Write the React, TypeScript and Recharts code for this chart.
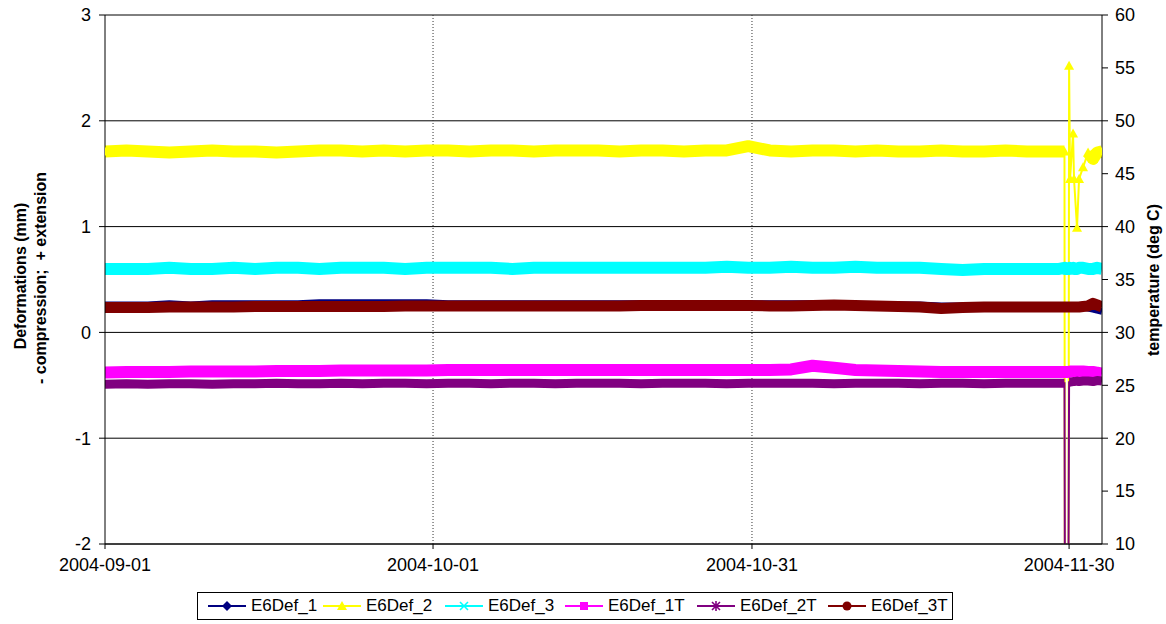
import React from 'react';
import { LineChart, Line, XAxis, YAxis, CartesianGrid, ReferenceLine } from 'recharts';

const FONT = '"Liberation Sans", Arial, sans-serif';

// position along the sample axis (roughly days from 2004-09-01; the axis is by reading, not calendar)
const pos = [
  0, 2, 4, 6, 8, 10, 12, 14, 16, 18, 20, 22, 24, 26, 28, 30, 32, 34, 36, 38, 40, 42,
  44, 46, 48, 50, 52, 54, 56, 58, 60, 62, 64, 66, 68, 70, 72, 74, 76, 78, 80, 82, 84,
  86, 88,
  89, 89.5, 89.55, 89.85, 89.93, 90.02, 90.3, 90.39, 90.67, 90.86, 91.23, 91.7, 92.16, 92.54, 93,
];

const dateTicks = [0, 30.6, 60.35, 89.93];
const dateLabels = ['2004-09-01', '2004-10-01', '2004-10-31', '2004-11-30'];
const defTicks = [-2, -1, 0, 1, 2, 3];
const tempTicks = [10, 15, 20, 25, 30, 35, 40, 45, 50, 55, 60];

// deformations (mm)
const def1 = [
  0.26, 0.26, 0.26, 0.27, 0.26, 0.27, 0.27, 0.27, 0.27, 0.27, 0.28, 0.28, 0.28, 0.28, 0.28,
  0.28, 0.27, 0.27, 0.27, 0.27, 0.27, 0.27, 0.27, 0.27, 0.27, 0.27, 0.27, 0.27, 0.27, 0.27,
  0.27, 0.27, 0.27, 0.27, 0.27, 0.26, 0.26, 0.26, 0.26, 0.25, 0.25, 0.25, 0.25, 0.25, 0.25,
  0.25, 0.25, 0.25, 0.25, 0.25, 0.25, 0.25, 0.25, 0.24, 0.24, 0.24, 0.23, 0.22, 0.21, 0.2,
];
const def2 = [
  1.71, 1.72, 1.71, 1.7, 1.71, 1.72, 1.71, 1.71, 1.7, 1.71, 1.72, 1.72, 1.71, 1.72, 1.71,
  1.72, 1.72, 1.71, 1.72, 1.72, 1.71, 1.72, 1.72, 1.72, 1.71, 1.72, 1.72, 1.71, 1.72, 1.72,
  1.76, 1.72, 1.71, 1.72, 1.72, 1.71, 1.72, 1.71, 1.71, 1.72, 1.71, 1.71, 1.72, 1.71, 1.71,
  1.71, 1.71, -5, -5, 2.52, 1.45, 1.88, 1.45, 0.99, 1.45, 1.56, 1.7, 1.64, 1.7, 1.71,
];
const def3 = [
  0.6, 0.6, 0.6, 0.61, 0.6, 0.6, 0.61, 0.6, 0.61, 0.61, 0.6, 0.61, 0.61, 0.61, 0.6,
  0.61, 0.61, 0.61, 0.61, 0.6, 0.61, 0.61, 0.61, 0.61, 0.61, 0.61, 0.61, 0.61, 0.61, 0.62,
  0.61, 0.61, 0.62, 0.61, 0.61, 0.62, 0.61, 0.61, 0.61, 0.6, 0.59, 0.6, 0.6, 0.6, 0.6,
  0.6, 0.61, 0.6, 0.6, 0.61, 0.6, 0.61, 0.6, 0.6, 0.61, 0.61, 0.6, 0.6, 0.61, 0.6,
];
// temperatures (deg C)
const def1T = [
  26.2, 26.25, 26.25, 26.25, 26.3, 26.3, 26.3, 26.3, 26.35, 26.35, 26.35, 26.4, 26.4, 26.4, 26.4,
  26.4, 26.45, 26.45, 26.45, 26.45, 26.45, 26.45, 26.45, 26.45, 26.45, 26.45, 26.45, 26.45, 26.45, 26.45,
  26.45, 26.45, 26.5, 26.85, 26.65, 26.45, 26.4, 26.35, 26.3, 26.25, 26.25, 26.25, 26.25, 26.25, 26.25,
  26.25, 26.25, 26.25, 26.25, 26.25, 26.3, 26.3, 26.3, 26.3, 26.3, 26.3, 26.25, 26.25, 26.2, 26.1,
];
const def2T = [
  25.1, 25.15, 25.1, 25.15, 25.15, 25.1, 25.15, 25.15, 25.2, 25.15, 25.15, 25.2, 25.15, 25.2, 25.2,
  25.15, 25.2, 25.2, 25.15, 25.2, 25.2, 25.15, 25.2, 25.2, 25.2, 25.15, 25.2, 25.2, 25.2, 25.15,
  25.2, 25.2, 25.2, 25.2, 25.15, 25.2, 25.2, 25.2, 25.15, 25.2, 25.2, 25.15, 25.2, 25.2, 25.2,
  25.2, 25.2, 0, 0, 25.3, 25.3, 25.35, 25.35, 25.4, 25.35, 25.4, 25.4, 25.35, 25.45, 25.4,
];
const def3T = [
  32.35, 32.35, 32.35, 32.4, 32.4, 32.4, 32.4, 32.45, 32.45, 32.45, 32.45, 32.45, 32.45, 32.45, 32.5,
  32.5, 32.5, 32.5, 32.5, 32.5, 32.5, 32.5, 32.5, 32.5, 32.5, 32.55, 32.55, 32.55, 32.55, 32.55,
  32.55, 32.5, 32.5, 32.55, 32.6, 32.55, 32.5, 32.45, 32.4, 32.25, 32.35, 32.4, 32.4, 32.4, 32.4,
  32.4, 32.4, 32.4, 32.4, 32.4, 32.4, 32.4, 32.4, 32.4, 32.4, 32.45, 32.5, 32.75, 32.6, 32.4,
];

// stretches where the readings jump around and the band breaks up
const def2Gap = [89.5, 91.7];
const def2TGap = [89.5, 89.93];

const series = [
  { key: 'E6Def_1', values: def1, color: '#000080', axis: 'left', marker: 'diamond', band: 7, gap: null },
  { key: 'E6Def_2', values: def2, color: '#ffff00', axis: 'left', marker: 'triangle', band: 12, gap: def2Gap },
  { key: 'E6Def_3', values: def3, color: '#00ffff', axis: 'left', marker: 'x', band: 12, gap: null },
  { key: 'E6Def_1T', values: def1T, color: '#ff00ff', axis: 'right', marker: 'square', band: 12, gap: null },
  { key: 'E6Def_2T', values: def2T, color: '#800080', axis: 'right', marker: 'star', band: 9, gap: def2TGap },
  { key: 'E6Def_3T', values: def3T, color: '#800000', axis: 'right', marker: 'circle', band: 11, gap: null },
];

const rows = pos.map((p, i) => {
  const row: any = { pos: p };
  series.forEach(s => {
    row[s.key] = s.values[i];
    const inBand = !s.gap || p <= s.gap[0] || p >= s.gap[1];
    row[s.key + '_band'] = inBand ? s.values[i] : null;
  });
  return row;
});

function Marker({ type, color, cx, cy }: { type: string; color: string; cx: number; cy: number }) {
  if (type === 'diamond') return <path d={`M${cx},${cy - 5} L${cx + 5},${cy} L${cx},${cy + 5} L${cx - 5},${cy} Z`} fill={color} />;
  if (type === 'triangle') return <path d={`M${cx},${cy - 5} L${cx + 5},${cy + 4} L${cx - 5},${cy + 4} Z`} fill={color} />;
  if (type === 'square') return <rect x={cx - 4} y={cy - 4} width={8} height={8} fill={color} />;
  if (type === 'circle') return <circle cx={cx} cy={cy} r={4.5} fill={color} />;
  if (type === 'x')
    return <path d={`M${cx - 4},${cy - 4} L${cx + 4},${cy + 4} M${cx + 4},${cy - 4} L${cx - 4},${cy + 4}`} stroke={color} strokeWidth={1.6} />;
  return (
    <path
      d={`M${cx - 4},${cy - 4} L${cx + 4},${cy + 4} M${cx + 4},${cy - 4} L${cx - 4},${cy + 4} M${cx},${cy - 5} L${cx},${cy + 5}`}
      stroke={color}
      strokeWidth={1.6}
    />
  );
}

const triangleDot = (p: any) => {
  if (p.cx == null || p.cy == null || p.value == null) return <g key={p.index} />;
  return <g key={p.index}><Marker type="triangle" color="#ffff00" cx={p.cx} cy={p.cy} /></g>;
};

const titleStyle = { fontWeight: 'bold' as const, fontSize: 16, fontFamily: FONT, fill: '#000', whiteSpace: 'pre' as const };

const LeftTitle = () => (
  <g>
    <text transform="translate(20,276) rotate(-90)" textAnchor="middle" dominantBaseline="central" style={titleStyle}>
      Deformations (mm)
    </text>
    <text transform="translate(40,278) rotate(-90)" textAnchor="middle" dominantBaseline="central" style={titleStyle}>
      - compression;  + extension
    </text>
  </g>
);

const RightTitle = () => (
  <text transform="translate(1153,280) rotate(-90)" textAnchor="middle" dominantBaseline="central" style={titleStyle}>
    temperature (deg C)
  </text>
);

const tickStyle = { fill: '#000', fontSize: 18, fontFamily: FONT };

export default function App() {
  const legendTextX = [53, 168, 290, 410, 542, 673];
  return (
    <div style={{ position: 'absolute', left: 0, top: 0, width: 1166, height: 624, background: '#fff' }}>
      <LineChart width={1166} height={624} data={rows} margin={{ top: 15, right: 0, bottom: 40, left: 0 }}>
        <CartesianGrid yAxisId="left" vertical={false} stroke="#000" />
        <XAxis
          dataKey="pos"
          type="number"
          domain={[0, 93]}
          allowDataOverflow
          ticks={dateTicks}
          tickFormatter={(v: number) => dateLabels[dateTicks.indexOf(v)]}
          height={40}
          tick={tickStyle}
          tickSize={5}
          tickMargin={9}
          stroke="#000"
        />
        <YAxis
          yAxisId="left"
          domain={[-2, 3]}
          allowDataOverflow
          ticks={defTicks}
          width={105}
          tick={tickStyle}
          tickSize={6}
          tickMargin={8}
          stroke="#000"
          label={<LeftTitle />}
        />
        <YAxis
          yAxisId="right"
          orientation="right"
          domain={[10, 60]}
          allowDataOverflow
          ticks={tempTicks}
          width={64}
          tick={tickStyle}
          tickSize={6}
          tickMargin={7}
          stroke="#000"
          label={<RightTitle />}
        />
        <ReferenceLine yAxisId="left" x={dateTicks[1]} stroke="#333" strokeDasharray="1 2" />
        <ReferenceLine yAxisId="left" x={dateTicks[2]} stroke="#333" strokeDasharray="1 2" />
        {series.flatMap(s => {
          const lines = [
            <Line
              key={s.key + '_band'}
              yAxisId={s.axis}
              dataKey={s.key + '_band'}
              type="linear"
              stroke={s.color}
              strokeWidth={s.band}
              strokeLinejoin="round"
              dot={false}
              activeDot={false}
              isAnimationActive={false}
            />,
          ];
          if (s.gap) {
            lines.push(
              <Line
                key={s.key}
                yAxisId={s.axis}
                dataKey={s.key}
                type="linear"
                stroke={s.color}
                strokeWidth={2}
                dot={s.marker === 'triangle' ? triangleDot : false}
                activeDot={false}
                isAnimationActive={false}
              />
            );
          }
          return lines;
        })}
      </LineChart>
      <div
        style={{
          position: 'absolute',
          left: 197,
          top: 592,
          width: 756,
          height: 28,
          border: '1px solid #000',
          boxSizing: 'border-box',
          fontFamily: FONT,
          fontSize: 17,
          color: '#000',
        }}
      >
        {series.map((s, i) => (
          <div key={s.key} style={{ position: 'absolute', left: legendTextX[i] - 43, top: 0, height: 26, display: 'flex', alignItems: 'center' }}>
            <svg width={38} height={14} style={{ marginRight: 5 }}>
              <line x1={0} y1={7} x2={38} y2={7} stroke={s.color} strokeWidth={2} />
              <Marker type={s.marker} color={s.color} cx={19} cy={7} />
            </svg>
            <span style={{ whiteSpace: 'nowrap' }}>{s.key}</span>
          </div>
        ))}
      </div>
    </div>
  );
}
